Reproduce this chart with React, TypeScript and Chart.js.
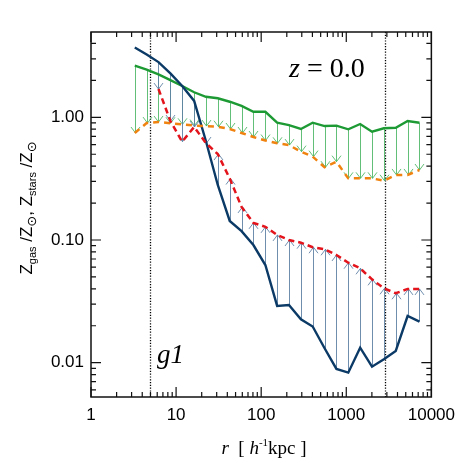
import React, { useEffect, useRef } from 'react';
import { Chart, registerables } from 'chart.js';

Chart.register(...registerables);

// radius bins [h^-1 kpc]
const R_KPC = [3.27, 4.51, 6.21, 8.57, 11.8, 16.3, 22.4, 30.9, 42.7, 58.8, 81.0, 112, 154, 212, 293, 403, 556, 766, 1056, 1456, 2007, 2767, 3814, 5258, 7248];
// green solid
const GAS_SOLID = [2.64, 2.45, 2.24, 2.01, 1.80, 1.60, 1.47, 1.43, 1.34, 1.24, 1.11, 1.11, 0.904, 0.865, 0.803, 0.904, 0.849, 0.855, 0.798, 0.882, 0.763, 0.814, 0.823, 0.933, 0.904];
// orange dashed
const GAS_DASHED = [0.745, 0.898, 0.916, 0.894, 0.877, 0.857, 0.849, 0.838, 0.803, 0.745, 0.691, 0.647, 0.614, 0.594, 0.525, 0.478, 0.392, 0.435, 0.318, 0.318, 0.318, 0.304, 0.339, 0.339, 0.372];
// dark blue solid
const STARS_SOLID = [3.71, 3.25, 2.82, 2.28, 1.80, 1.36, 0.641, 0.281, 0.143, 0.118, 0.091, 0.0625, 0.0290, 0.0295, 0.0226, 0.0197, 0.0131, 0.00889, 0.00829, 0.01325, 0.00927, 0.01066, 0.01245, 0.0240, 0.0216];
// red dashed
const STARS_DASHED = [null, null, 1.70, 0.933, 0.633, 0.834, 0.617, 0.502, 0.317, 0.186, 0.138, 0.128, 0.110, 0.100, 0.0951, 0.0873, 0.0840, 0.0755, 0.0653, 0.0588, 0.0478, 0.0404, 0.0368, 0.0399, 0.0399];

const V_LINES = [5, 2870];
const X_TICKS = [1, 10, 100, 1000, 10000];
const X_TICK_LABELS = ['1', '10', '100', '1000', '10000'];
const Y_TICKS = [0.01, 0.1, 1];
const Y_TICK_LABELS = ['0.01', '0.10', '1.00'];
const X_MIN = 1, X_MAX = 10000, Y_MIN = 0.00525, Y_MAX = 4.96;

const SANS = '"Liberation Sans", Arial, Helvetica, sans-serif';
const SERIF = '"Liberation Serif", "Times New Roman", serif';

function pts(ys: (number | null)[]) {
  return R_KPC.map((r, i) => ({ x: r, y: ys[i] }));
}

function drawArrows(ctx: CanvasRenderingContext2D, xs: any, ys: any, from: (number | null)[], to: (number | null)[], color: string) {
  ctx.strokeStyle = color;
  ctx.lineWidth = 1;
  R_KPC.forEach((r, i) => {
    const a = from[i], b = to[i];
    if (a == null || b == null) return;
    const px = Math.round(xs.getPixelForValue(r)) + 0.5;
    const y0 = ys.getPixelForValue(a);
    const y1 = ys.getPixelForValue(b);
    const dir = y1 > y0 ? 1 : -1;
    ctx.beginPath();
    ctx.moveTo(px, y0);
    ctx.lineTo(px, y1);
    ctx.stroke();
    ctx.beginPath();
    ctx.moveTo(px - 4.5, y1 - dir * 6);
    ctx.lineTo(px, y1);
    ctx.lineTo(px + 4.5, y1 - dir * 6);
    ctx.stroke();
  });
}

type Part = { t: string; font: string; dy: number };

function drawParts(ctx: CanvasRenderingContext2D, parts: Part[], x: number, y: number) {
  let cx = x;
  parts.forEach(p => {
    ctx.font = p.font;
    ctx.fillText(p.t, cx, y + p.dy);
    cx += ctx.measureText(p.t).width;
  });
}
function partsWidth(ctx: CanvasRenderingContext2D, parts: Part[]) {
  let w = 0;
  parts.forEach(p => { ctx.font = p.font; w += ctx.measureText(p.t).width; });
  return w;
}

const decor = {
  id: 'decor',
  beforeDatasetsDraw(chart: any) {
    const { ctx, chartArea: a, scales } = chart;
    const xs = scales.x, ys = scales.y;
    ctx.save();
    ctx.beginPath();
    ctx.rect(a.left, a.top, a.right - a.left, a.bottom - a.top);
    ctx.clip();
    ctx.strokeStyle = '#000';
    ctx.lineWidth = 1.3;
    ctx.setLineDash([1.2, 1.6]);
    V_LINES.forEach(v => {
      const px = Math.round(xs.getPixelForValue(v)) + 0.5;
      ctx.beginPath();
      ctx.moveTo(px, a.top);
      ctx.lineTo(px, a.bottom);
      ctx.stroke();
    });
    ctx.setLineDash([]);
    drawArrows(ctx, xs, ys, GAS_SOLID, GAS_DASHED, 'rgba(70,180,95,0.85)');
    drawArrows(ctx, xs, ys, STARS_SOLID, STARS_DASHED, 'rgba(95,130,165,0.9)');
    ctx.restore();
  },
  afterDraw(chart: any) {
    const { ctx, chartArea: a, scales } = chart;
    const xs = scales.x, ys = scales.y;
    ctx.save();
    // frame
    ctx.strokeStyle = '#111';
    ctx.lineWidth = 1.5;
    ctx.strokeRect(a.left, a.top, a.right - a.left, a.bottom - a.top);
    // ticks
    ctx.lineWidth = 1.2;
    const xTick = (v: number, len: number) => {
      const px = xs.getPixelForValue(v);
      ctx.beginPath();
      ctx.moveTo(px, a.bottom); ctx.lineTo(px, a.bottom - len);
      ctx.moveTo(px, a.top); ctx.lineTo(px, a.top + len);
      ctx.stroke();
    };
    const yTick = (v: number, len: number) => {
      const py = ys.getPixelForValue(v);
      ctx.beginPath();
      ctx.moveTo(a.left, py); ctx.lineTo(a.left + len, py);
      ctx.moveTo(a.right, py); ctx.lineTo(a.right - len, py);
      ctx.stroke();
    };
    X_TICKS.forEach(v => xTick(v, 10));
    for (let d = 0; d < 4; d++) for (let m = 2; m <= 9; m++) xTick(m * Math.pow(10, d), 5);
    Y_TICKS.forEach(v => yTick(v, 10));
    for (let d = -3; d <= 0; d++) for (let m = 2; m <= 9; m++) {
      const v = m * Math.pow(10, d);
      if (v > Y_MIN && v < Y_MAX) yTick(v, 5);
    }
    ctx.fillStyle = '#000';
    ctx.textBaseline = 'alphabetic';
    ctx.textAlign = 'left';
    // z = 0.0
    drawParts(ctx, [
      { t: 'z', font: `italic 28px ${SERIF}`, dy: 0 },
      { t: ' = 0.0', font: `28px ${SERIF}`, dy: 0 },
    ], 289, 77);
    // g1
    drawParts(ctx, [{ t: 'g1', font: `italic 27px ${SERIF}`, dy: 0 }], 157, 363);
    // x title
    const xt: Part[] = [
      { t: 'r', font: `italic 19px ${SERIF}`, dy: 0 },
      { t: '  [ ', font: `19px ${SERIF}`, dy: 0 },
      { t: 'h', font: `italic 19px ${SERIF}`, dy: 0 },
      { t: '-1', font: `11px ${SERIF}`, dy: -8 },
      { t: 'kpc ]', font: `19px ${SERIF}`, dy: 0 },
    ];
    const xw = partsWidth(ctx, xt);
    drawParts(ctx, xt, 264 - xw / 2, 454);
    // y title
    const yt: Part[] = [
      { t: 'Z', font: `17px ${SANS}`, dy: 0 },
      { t: 'gas', font: `11px ${SANS}`, dy: 4 },
      { t: ' /Z', font: `17px ${SANS}`, dy: 0 },
      { t: '\u2299', font: `13px "DejaVu Sans", ${SANS}`, dy: 4 },
      { t: ', ', font: `17px ${SANS}`, dy: 0 },
      { t: 'Z', font: `17px ${SANS}`, dy: 0 },
      { t: 'stars', font: `11px ${SANS}`, dy: 4 },
      { t: ' /Z', font: `17px ${SANS}`, dy: 0 },
      { t: '\u2299', font: `13px "DejaVu Sans", ${SANS}`, dy: 4 },
    ];
    const yw = partsWidth(ctx, yt);
    ctx.translate(32, 208);
    ctx.rotate(-Math.PI / 2);
    drawParts(ctx, yt, -yw / 2, 0);
    ctx.restore();
  },
};

export default function App() {
  const ref = useRef<HTMLCanvasElement | null>(null);
  useEffect(() => {
    if (!ref.current) return;
    const chart = new Chart(ref.current, {
      type: 'line',
      data: {
        datasets: [
          { data: pts(STARS_DASHED), borderColor: '#e3141b', borderWidth: 2.5, borderDash: [6, 4], pointRadius: 0, fill: false },
          { data: pts(GAS_DASHED), borderColor: '#f0830f', borderWidth: 2.5, borderDash: [6, 5], pointRadius: 0, fill: false },
          { data: pts(STARS_SOLID), borderColor: '#0c3a66', borderWidth: 2.4, pointRadius: 0, fill: false },
          { data: pts(GAS_SOLID), borderColor: '#1e9a35', borderWidth: 2.4, pointRadius: 0, fill: false },
        ] as any,
      },
      options: {
        responsive: false,
        animation: false,
        parsing: false as any,
        layout: { padding: { top: 32, right: 30, left: 0, bottom: 0 } },
        plugins: { legend: { display: false }, tooltip: { enabled: false }, title: { display: false } },
        elements: { point: { radius: 0 }, line: { tension: 0 } },
        scales: {
          x: {
            type: 'logarithmic', min: X_MIN, max: X_MAX, position: 'bottom',
            afterBuildTicks: (s: any) => { s.ticks = X_TICKS.map(v => ({ value: v })); },
            afterFit: (s: any) => { s.height = 66; },
            grid: { display: false, drawTicks: false }, border: { display: false },
            ticks: {
              autoSkip: false, maxRotation: 0, minRotation: 0, padding: 8, color: '#000',
              font: { family: SANS, size: 17 },
              callback: (_v: any, i: number) => X_TICK_LABELS[i],
            },
          },
          y: {
            type: 'logarithmic', min: Y_MIN, max: Y_MAX,
            afterBuildTicks: (s: any) => { s.ticks = Y_TICKS.map(v => ({ value: v })); },
            afterFit: (s: any) => { s.width = 91; },
            grid: { display: false, drawTicks: false }, border: { display: false },
            ticks: {
              autoSkip: false, padding: 7, color: '#000',
              font: { family: SANS, size: 17 },
              callback: (_v: any, i: number) => Y_TICK_LABELS[i],
            },
          },
        } as any,
      },
      plugins: [decor],
    });
    return () => chart.destroy();
  }, []);
  return (
    <div style={{ position: 'absolute', left: 0, top: 0, width: 463, height: 463, background: '#fff' }}>
      <canvas ref={ref} width={463} height={463} />
    </div>
  );
}
